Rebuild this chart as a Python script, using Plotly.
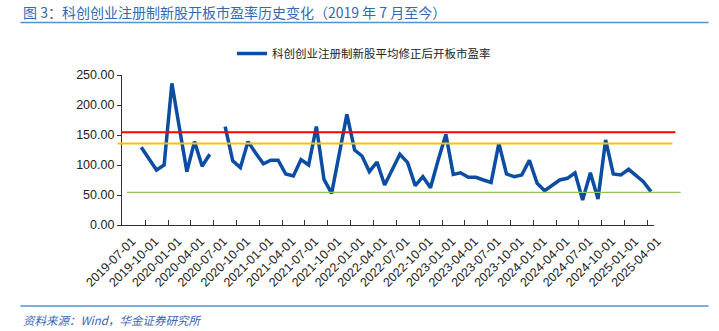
import plotly.graph_objects as go
import pandas as pd

# ---- data ----
months = pd.date_range("2019-09-01", "2025-04-01", freq="MS").strftime("%Y-%m-%d").tolist()
pe_values = [
    129.5, 110, 91.7, 100, 236, 162, 89, 139, 98, 118,      # 2019-09 .. 2020-06
    None, 164, 107, 95.6, 139, 120, 102, 108, 108, 85,      # 2020-07 .. 2021-04
    81.7, 109, 100, 164, 76, 52.8, 118, 184.5, 125, 115,    # 2021-05 .. 2022-02
    89, 105, 66.7, 91.7, 117.8, 104, 65.6, 80.6, 62.2, 108, # 2022-03 .. 2022-12
    151, 84.4, 87, 79.4, 79.4, 75, 71, 136, 85, 80.6,       # 2023-01 .. 2023-10
    83.3, 108, 69.4, 57.2, 66.7, 75, 77.8, 87, 41.7, 87,    # 2023-11 .. 2024-08
    43.3, 141.7, 85, 83.3, 92.8, 83.3, 72.2, 55.6,          # 2024-09 .. 2025-04
]
series_name = "科创创业注册制新股平均修正后开板市盈率"
ref_levels = [154.5, 136, 54.5]          # red, orange, green reference lines
tick_dates = pd.date_range("2019-07-01", "2025-04-01", freq="QS").strftime("%Y-%m-%d").tolist()
tick_labels = tick_dates
y_ticks = [0, 50, 100, 150, 200, 250]

title_text = "图 3：科创创业注册制新股开板市盈率历史变化（2019 年 7 月至今）"
source_text = "资料来源：Wind，华金证券研究所"

W, H = 719, 331
L, R, T, B = 121.7, 654.3, 75, 225   # plot area pixel box
pw, ph = R - L, B - T

def px(x):
    return (x - L) / pw

def py(y):
    return (B - y) / ph

fig = go.Figure()
fig.add_trace(go.Scatter(
    x=months, y=pe_values, name=series_name, mode="lines",
    xperiod="M1", xperiodalignment="middle",
    line=dict(color="#0B4DA2", width=3.5), connectgaps=False,
))

ref_styles = [
    dict(color="#FF0000", width=2, x0=px(121), x1=px(675.7)),
    dict(color="#FFC000", width=2, x0=px(117.3), x1=px(672.7)),
    dict(color="#92C15A", width=1.3, x0=px(126.7), x1=px(681)),
]
for lvl, st in zip(ref_levels, ref_styles):
    fig.add_shape(type="line", xref="paper", yref="y", x0=st["x0"], x1=st["x1"],
                  y0=lvl, y1=lvl, line=dict(color=st["color"], width=st["width"]))

# decorative rules under the title and above the source
for yy in (22.5, 306):
    fig.add_shape(type="line", xref="paper", yref="paper", x0=px(20), x1=px(709),
                  y0=py(yy), y1=py(yy), line=dict(color="#4E94D4", width=1.3))

fig.add_annotation(text=title_text, xref="paper", yref="paper", x=px(21), y=py(12.5),
                   xanchor="left", yanchor="middle", showarrow=False,
                   font=dict(family="Noto Sans CJK SC", size=14, color="#3369B2"))
fig.add_annotation(text=source_text, xref="paper", yref="paper", x=px(21), y=py(320),
                   xanchor="left", yanchor="middle", showarrow=False,
                   font=dict(family="Noto Sans CJK SC", size=11.5, color="#3A64B4", style="italic"))

fig.update_layout(
    width=W, height=H,
    margin=dict(l=L, r=W - R, t=T, b=H - B, pad=0, autoexpand=False),
    paper_bgcolor="white", plot_bgcolor="white",
    font=dict(family="Liberation Sans, Arial", color="#222"),
    showlegend=True,
    legend=dict(orientation="h", xref="container", yref="container",
                x=232 / W, y=1 - 39 / H, xanchor="left", yanchor="top",
                font=dict(family="Noto Sans CJK SC", size=11.5, color="#222"),
                bgcolor="rgba(0,0,0,0)", itemwidth=30),
    xaxis=dict(
        type="date", range=["2019-07-01", "2025-04-28"],
        tickmode="array", tickvals=tick_dates, ticktext=tick_labels,
        tickangle=-45, ticks="inside", ticklen=5, tickcolor="#333",
        ticklabelshift=10, ticklabelstandoff=3, automargin=False,
        showline=True, linecolor="#333", linewidth=1.2, showgrid=False, zeroline=False,
        tickfont=dict(size=12.5, color="#222", family="Liberation Sans, Arial"),
    ),
    yaxis=dict(
        range=[0, 250], tickmode="array", tickvals=y_ticks, tickformat=".2f",
        ticks="outside", ticklen=4, tickcolor="#333", automargin=False,
        showline=True, linecolor="#333", linewidth=1.2, showgrid=False, zeroline=False,
        tickfont=dict(size=12.5, color="#222", family="Liberation Sans, Arial"),
    ),
)

fig.write_html("out.html")
